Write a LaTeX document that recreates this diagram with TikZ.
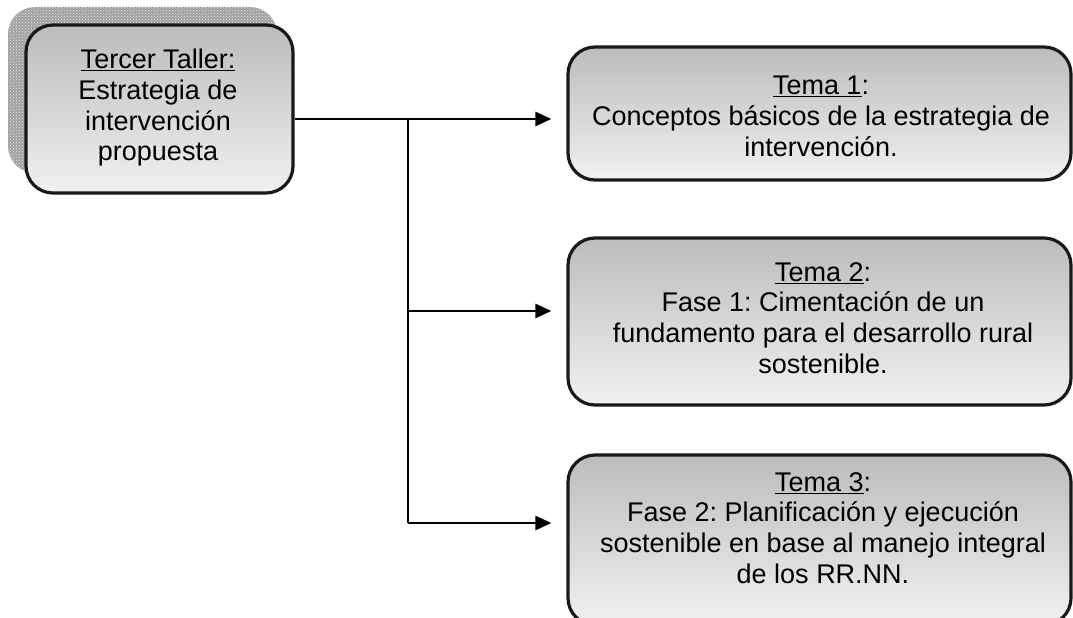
\documentclass[tikz,border=0pt]{standalone}
\usepackage{fontspec}
\setmainfont{Liberation Sans}
\usetikzlibrary{arrows.meta,patterns,calc}
\definecolor{boxtop}{RGB}{188,188,188}
\definecolor{boxbot}{RGB}{241,241,241}
\definecolor{shadowgray}{RGB}{160,160,160}
\frenchspacing
\begin{document}
\begin{tikzpicture}[x=1pt,y=-1pt,
  box/.style={draw=black!90,line width=3.2pt,rounded corners=27pt,top color=boxtop,bottom color=boxbot,minimum width=503pt,inner sep=0pt},
  shadowbox/.style={rounded corners=27pt,fill=shadowgray,postaction={pattern=crosshatch dots,pattern color=white!85!gray},minimum width=269pt,minimum height=166pt,inner sep=0pt},
  txt/.style={align=center,inner sep=0pt,anchor=north,font=\fontsize{27}{30.7}\selectfont},
  conn/.style={line width=2.5pt,black},
  arr/.style={conn,-{Triangle[length=16pt,width=14pt]},shorten >=15pt}]
\useasboundingbox (0,0) rectangle (1073,618);
\clip (0,0) rectangle (1073,618);
\node[shadowbox] (shadow) at (142.5,90) {};
\node[box,minimum width=267pt,minimum height=168pt] (main) at (159.5,109) {};
\node[box,minimum height=133pt] (box1) at (819.5,113.5) {};
\node[box,minimum height=167pt] (box2) at (819.5,321.5) {};
\node[box,minimum height=170pt] (box3) at (819.5,540) {};
\node[txt] (t0) at (158,49) {\underline{Tercer Taller:}\\Estrategia de\\intervención\\propuesta};
\node[txt] (t1) at (821,76) {\underline{Tema 1}:\\Conceptos básicos de la estrategia de\\intervención.};
\node[txt] (t2) at (823,262) {\underline{Tema 2}:\\Fase 1: Cimentación de un\\fundamento para el desarrollo rural\\sostenible.};
\node[txt] (t3) at (823,472) {\underline{Tema 3}:\\Fase 2: Planificación y ejecución\\sostenible en base al manejo integral\\de los RR.NN.};
\coordinate (j1) at (408,119);
\coordinate (j2) at (408,311);
\coordinate (j3) at (408,523);
\draw[arr] ([yshift=-10pt]main.east) -- (j1 -| box1.west);
\draw[conn] (j1) -- (j3);
\draw[arr] (j2) -- (j2 -| box2.west);
\draw[arr] (j3) -- (j3 -| box3.west);
\end{tikzpicture}
\end{document}
